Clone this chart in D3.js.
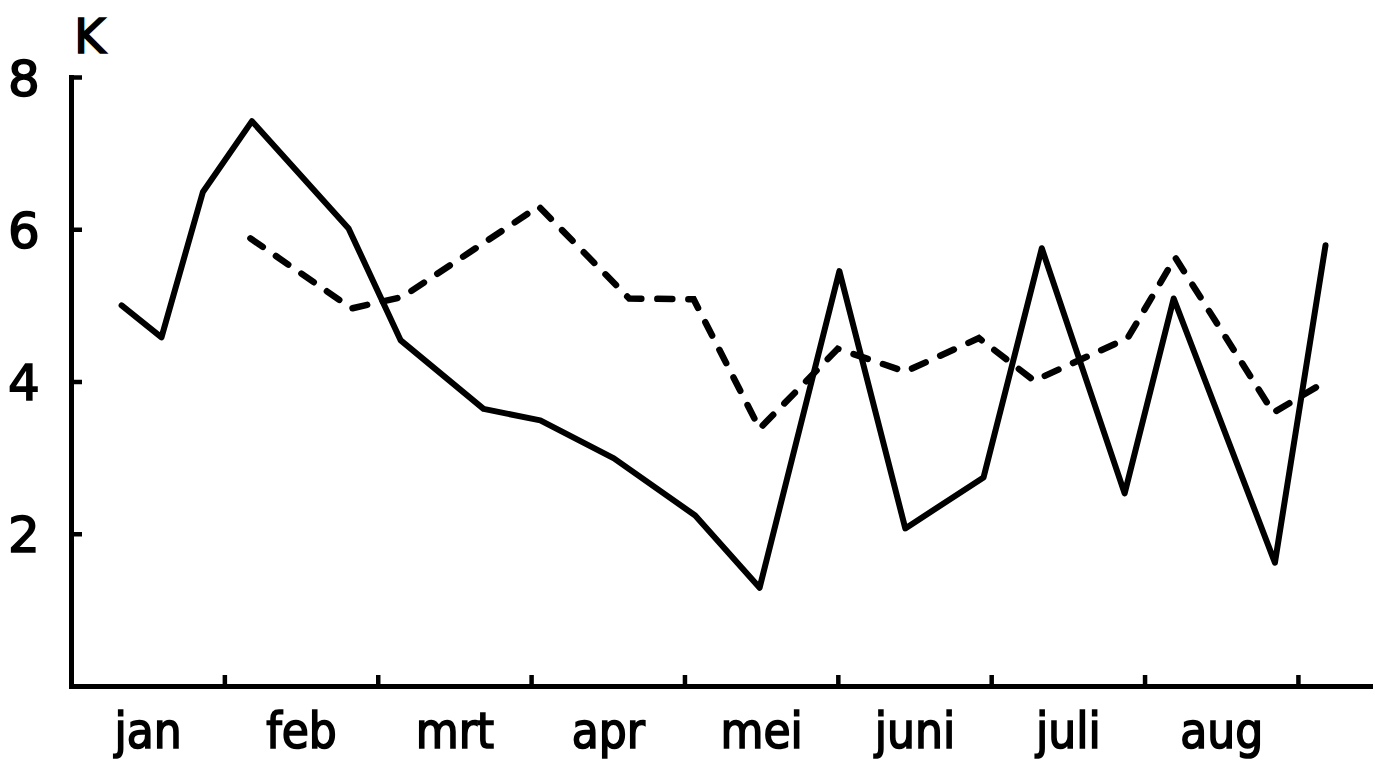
<!DOCTYPE html>
<meta charset="utf-8">
<style>
  body { margin: 0; background: #fff; }
  text { fill: #000; }
</style>
<svg width="1375" height="781"></svg>
<script src="https://cdn.jsdelivr.net/npm/d3@7"></script>
<script>

// month labels along the bottom, each centred in its month
var months = ["jan", "feb", "mrt", "apr", "mei", "juni", "juli", "aug"];
var yTicks = [2, 4, 6, 8];

// solid curve: position in months since 1 jan, value in K
var solidT = [0.33, 0.59, 0.86, 1.18, 1.81, 2.15, 2.69, 3.06, 3.54, 4.07, 4.49, 5.01, 5.44, 5.95, 6.33, 6.87, 7.19, 7.85, 8.18];
var solidK = [5.0, 4.58, 6.49, 7.42, 6.01, 4.54, 3.64, 3.49, 2.99, 2.24, 1.29, 5.45, 2.07, 2.74, 5.75, 2.53, 5.09, 1.62, 5.79];

// dashed curve
var dashT = [1.17, 1.83, 2.16, 3.05, 3.64, 4.06, 4.49, 5.0, 5.44, 5.92, 6.28, 6.89, 7.2, 7.84, 8.14];
var dashK = [5.88, 4.96, 5.11, 6.3, 5.09, 5.08, 3.38, 4.43, 4.13, 4.57, 4.01, 4.57, 5.63, 3.59, 3.95];

var svg = d3.select("svg"),
    left = 71,
    bottom = 686;

var x = d3.scaleLinear().domain([0, 8.47]).range([left, 1370]),
    y = d3.scaleLinear().domain([0, 8]).range([bottom, 77]);

// y axis, ticks pointing inwards
var gy = svg.append("g")
    .attr("transform", "translate(" + left + ",0)")
    .call(d3.axisLeft(y).tickValues(yTicks).tickSizeInner(-11).tickSizeOuter(0).tickPadding(47));

gy.select(".domain").attr("stroke-width", 5).attr("stroke-linecap", "square");
gy.selectAll(".tick line").attr("stroke-width", 4.5);
gy.selectAll(".tick text")
    .attr("text-anchor", "middle")
    .attr("dy", "0.36em")
    .style("font-family", "DejaVu Sans")
    .style("font-size", "50px")
    .style("stroke", "#000")
    .style("stroke-width", "1.6px");

// x axis with month boundary ticks pointing up
var gx = svg.append("g")
    .attr("transform", "translate(0," + bottom + ")")
    .call(d3.axisBottom(x).tickValues(d3.range(1, 9)).tickSizeInner(-11).tickSizeOuter(0).tickFormat(""));

gx.select(".domain").attr("stroke-width", 5).attr("stroke-linecap", "square");
gx.selectAll(".tick line").attr("stroke-width", 4.5);

// month names
var gm = svg.append("g")
    .attr("transform", "translate(0," + bottom + ")")
    .call(d3.axisBottom(x).tickValues(months.map(function(d, i) { return i + 0.5; }))
      .tickFormat(function(d, i) { return months[i]; }).tickSize(0));

gm.select(".domain").remove();
gm.selectAll(".tick text")
    .attr("y", 62)
    .attr("dy", 0)
    .style("font-family", "DejaVu Sans Condensed")
    .style("font-size", "49px")
    .style("stroke", "#000")
    .style("stroke-width", "1.6px");

// unit label
svg.append("text")
    .attr("x", 74)
    .attr("y", 53)
    .style("font-family", "DejaVu Sans")
    .style("font-size", "48px")
    .style("stroke", "#000")
    .style("stroke-width", "1.6px")
    .text("K");

var line = d3.line()
    .x(function(d) { return x(d[0]); })
    .y(function(d) { return y(d[1]); });

svg.append("path")
    .datum(d3.zip(solidT, solidK))
    .attr("d", line)
    .attr("fill", "none")
    .attr("stroke", "#000")
    .attr("stroke-width", 6)
    .attr("stroke-linejoin", "round")
    .attr("stroke-linecap", "round");

svg.append("path")
    .datum(d3.zip(dashT, dashK))
    .attr("d", line)
    .attr("fill", "none")
    .attr("stroke", "#000")
    .attr("stroke-width", 6.5)
    .attr("stroke-dasharray", "15 16")
    .attr("stroke-linecap", "round");

</script>
